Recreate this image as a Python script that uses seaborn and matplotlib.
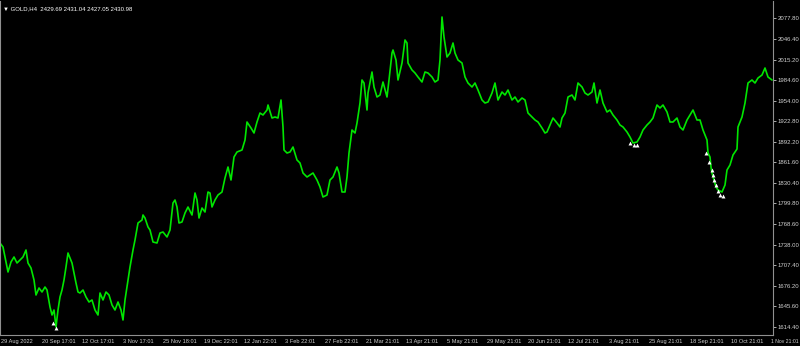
import matplotlib
matplotlib.use("Agg")
import matplotlib.pyplot as plt
import seaborn as sns
import pandas as pd

# ---- data (bar position, close price) ----
bar_pos = [0, 3, 5, 8, 11, 14, 17, 20, 23, 26, 28, 31, 34, 36, 39, 42, 45, 47, 50, 52,
           54, 56, 58, 60, 62, 64, 66, 68, 70, 72, 74, 76, 78, 80, 83, 86, 89, 92, 95, 98,
           100, 103, 106, 109, 112, 115, 118, 121, 123, 125, 127, 130, 133, 135, 138, 142, 143, 145, 148, 150,
           153, 157, 160, 163, 167, 170, 173, 175, 177, 179, 182, 185, 188, 192, 195, 197, 199, 202, 205, 208,
           210, 212, 215, 218, 222, 225, 228, 231, 234, 237, 242, 245, 247, 251, 254, 257, 260, 263, 267, 268,
           272, 275, 278, 281, 283, 284, 287, 290, 293, 297, 300, 303, 307, 310, 313, 317, 320, 323, 327, 330,
           333, 337, 339, 342, 345, 347, 349, 352, 355, 357, 360, 362, 364, 367, 368, 372, 374, 377, 380, 383,
           387, 389, 392, 393, 396, 398, 402, 405, 407, 408, 412, 415, 418, 422, 425, 428, 432, 435, 438, 440,
           442, 444, 447, 450, 453, 455, 458, 462, 465, 468, 472, 475, 478, 482, 485, 488, 492, 495, 498, 502,
           505, 508, 512, 515, 518, 522, 525, 528, 532, 535, 538, 542, 545, 547, 550, 553, 557, 560, 562, 565,
           568, 572, 575, 578, 582, 585, 588, 592, 594, 597, 600, 603, 607, 610, 613, 617, 620, 623, 627, 630,
           633, 637, 640, 643, 647, 650, 653, 657, 660, 663, 667, 670, 673, 677, 680, 683, 687, 690, 693, 697,
           700, 703, 707, 708, 710, 711, 712, 714, 716, 718, 722, 725, 727, 730, 733, 737, 738, 742, 745, 748,
           752, 755, 758, 762, 765, 768, 772]
close = [1740.3, 1734.3, 1719.3, 1696.8, 1711.8, 1719.3, 1710.3, 1714.8, 1719.3, 1729.8, 1710.3, 1702.8, 1684.8, 1662.3, 1672.8, 1666.8, 1674.3, 1669.8, 1644.3, 1632.3,
         1639.8, 1614.3, 1639.8, 1659.3, 1669.8, 1684.8, 1704.3, 1725.3, 1717.8, 1710.3, 1695.3, 1680.3, 1666.8, 1665.3, 1669.8, 1659.3, 1651.8, 1654.8, 1639.8, 1632.3,
         1665.3, 1654.8, 1666.8, 1662.3, 1647.3, 1639.8, 1651.8, 1639.8, 1624.8, 1654.8, 1674.3, 1704.3, 1729.8, 1744.8, 1770.3, 1774.8, 1782.3, 1777.8, 1764.3, 1759.8,
         1741.8, 1740.3, 1755.3, 1756.8, 1749.3, 1759.8, 1800.3, 1804.8, 1794.3, 1770.3, 1771.8, 1785.3, 1794.3, 1782.3, 1815.3, 1804.8, 1777.8, 1792.8, 1786.8, 1816.8,
         1815.3, 1794.3, 1804.8, 1812.3, 1816.8, 1837.8, 1854.3, 1834.8, 1869.3, 1876.8, 1879.8, 1894.8, 1921.8, 1912.8, 1905.3, 1921.8, 1935.3, 1932.3, 1939.8, 1947.3,
         1927.8, 1929.3, 1927.8, 1954.8, 1914.3, 1879.8, 1875.3, 1876.8, 1884.3, 1864.8, 1860.3, 1845.3, 1839.3, 1842.3, 1845.3, 1834.8, 1824.3, 1809.3, 1812.3, 1834.8,
         1839.3, 1854.3, 1845.3, 1816.8, 1816.8, 1839.3, 1875.3, 1909.8, 1905.3, 1920.3, 1950.3, 1984.8, 1980.3, 1939.8, 1965.3, 1996.8, 1974.3, 1959.3, 1962.3, 1981.8,
         1959.3, 1984.8, 2025.3, 2029.8, 2014.8, 1984.8, 2010.3, 2044.8, 2040.3, 2010.3, 1999.8, 1995.3, 1989.3, 1981.8, 1996.8, 1995.3, 1989.3, 1981.8, 1984.8, 2014.8,
         2079.3, 2049.3, 2019.3, 2025.3, 2040.3, 2025.3, 2014.8, 2010.3, 1989.3, 1980.3, 1974.3, 1980.3, 1969.8, 1954.8, 1950.3, 1951.8, 1965.3, 1980.3, 1954.8, 1966.8,
         1962.3, 1969.8, 1954.8, 1959.3, 1951.8, 1957.8, 1954.8, 1935.3, 1929.3, 1924.8, 1921.8, 1912.8, 1905.3, 1906.8, 1917.3, 1927.8, 1920.3, 1914.3, 1927.8, 1935.3,
         1959.3, 1962.3, 1954.8, 1980.3, 1974.3, 1965.3, 1962.3, 1966.8, 1980.3, 1950.3, 1969.8, 1950.3, 1936.8, 1939.8, 1932.3, 1924.8, 1917.3, 1914.3, 1906.8, 1899.3,
         1890.3, 1891.8, 1899.3, 1909.8, 1917.3, 1921.8, 1927.8, 1947.3, 1942.8, 1947.3, 1936.8, 1921.8, 1921.8, 1927.8, 1914.3, 1909.8, 1924.8, 1932.3, 1939.8, 1924.8,
         1924.8, 1909.8, 1894.8, 1875.3, 1869.3, 1854.3, 1845.3, 1834.8, 1824.3, 1819.8, 1816.8, 1827.3, 1849.8, 1857.3, 1872.3, 1881.3, 1914.3, 1929.3, 1950.3, 1980.3,
         1984.8, 1980.3, 1987.8, 1992.3, 2002.8, 1989.3, 1984.8]

# trade arrows
arrow_pos = [53, 56, 630, 634, 637, 706, 709, 712, 713, 714, 716, 718, 720, 723]
arrow_price = [1620.3, 1612.8, 1890.3, 1887.3, 1887.3, 1875.3, 1861.8, 1849.8, 1842.3,
               1834.8, 1827.3, 1818.3, 1812.3, 1810.8]

price_ticks = [2077.80, 2046.40, 2015.20, 1984.60, 1954.00, 1922.80, 1892.20, 1861.60,
               1830.40, 1799.80, 1768.60, 1738.00, 1707.40, 1676.20, 1645.60, 1614.40]
time_labels = ["29 Aug 2022", "20 Sep 17:01", "12 Oct 17:01", "3 Nov 17:01", "25 Nov 18:01",
               "19 Dec 22:01", "12 Jan 22:01", "3 Feb 22:01", "27 Feb 22:01", "21 Mar 21:01",
               "13 Apr 21:01", "5 May 21:01", "29 May 21:01", "20 Jun 21:01", "12 Jul 21:01",
               "3 Aug 21:01", "25 Aug 21:01", "18 Sep 21:01", "10 Oct 21:01", "1 Nov 21:01"]
time_tick_pos = [1 + 40.53 * i for i in range(len(time_labels))]
header = "GOLD,H4  2429.69 2431.04 2427.05 2430.98"

sns.set_theme(style="dark")
plt.rcParams['font.family'] = ['Liberation Sans', 'DejaVu Sans']

fig = plt.figure(figsize=(8, 3.46), dpi=100, facecolor='black')
ax = fig.add_axes([0.0, 1 - 335 / 346, 773 / 800, 334 / 346])
ax.set_facecolor('black')

df = pd.DataFrame({"pos": bar_pos, "close": close})
sns.lineplot(data=df, x="pos", y="close", ax=ax, color="#00e600", linewidth=1.2,
             estimator=None, sort=False)
adf = pd.DataFrame({"pos": arrow_pos, "price": arrow_price})
sns.scatterplot(data=adf, x="pos", y="price", ax=ax, color="white", marker="^",
                s=8, linewidth=0, zorder=5)

ax.set_xlim(0, 773)
ax.set_ylim(1602.3, 2103.3)
ax.grid(False)

ax.yaxis.tick_right()
ax.set_yticks(price_ticks)
ax.set_yticklabels([f"{v:.2f}" for v in price_ticks])
ax.set_xticks(time_tick_pos)
ax.set_xticklabels(time_labels, ha='left')
ax.tick_params(axis='y', colors='#c8c8c8', labelsize=4.3, length=2.5, width=0.6, pad=1, direction='out')
ax.tick_params(axis='x', colors='#c8c8c8', labelsize=4.1, length=2.5, width=0.6, pad=0.5, direction='out')
for lbl in ax.get_xticklabels():
    lbl.set_color('#d0d0d0')
ax.get_xticklabels()[-1].set_fontsize(3.7)
for lbl in ax.get_yticklabels():
    lbl.set_color('#d0d0d0')
ax.set_xlabel("")
ax.set_ylabel("")
for side, sp in ax.spines.items():
    sp.set_color('#909090')
    sp.set_linewidth(0.8)
    sp.set_visible(side in ('right', 'bottom', 'left'))

ax.text(0.004, 0.985, "\u25BC " + header, transform=ax.transAxes, color='white',
        fontsize=4.3, va='top', ha='left')

fig.savefig("out.png", dpi=100, facecolor='black')
